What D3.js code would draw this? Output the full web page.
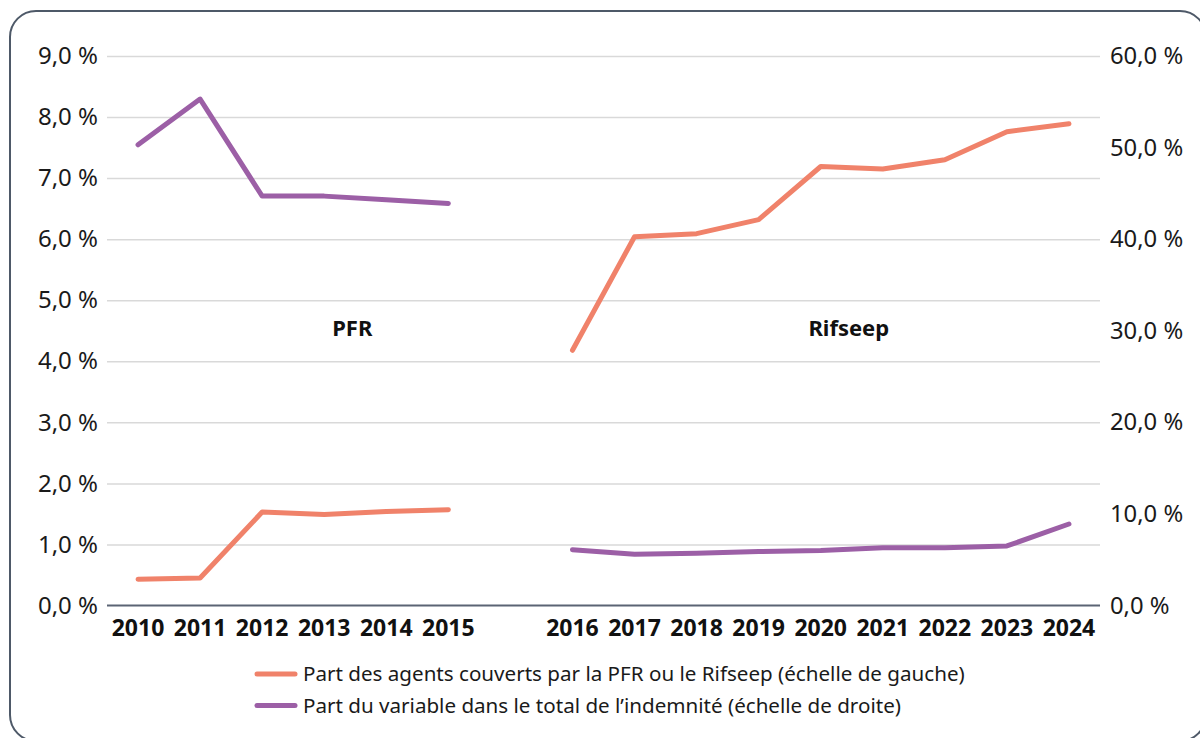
<!DOCTYPE html>
<html>
<head>
<meta charset="utf-8">
<script src="https://cdn.jsdelivr.net/npm/d3@7"></script>
<style>
  body { margin: 0; background: #fff; }
  svg { display: block; font-family: "Noto Sans", sans-serif; }
</style>
</head>
<body>
<svg id="chart" width="1200" height="738"></svg>
<script>
// valeurs
var years = [2010, 2011, 2012, 2013, 2014, 2015, 2016, 2017, 2018, 2019, 2020, 2021, 2022, 2023, 2024];
// part des agents couverts (échelle de gauche, %)
var agentsCouverts = [0.43, 0.45, 1.53, 1.49, 1.54, 1.57, 4.18, 6.04, 6.09, 6.32, 7.19, 7.15, 7.30, 7.76, 7.89];
// part du variable (échelle de droite, %)
var partVariable = [50.3, 55.3, 44.7, 44.7, 44.3, 43.9, 6.1, 5.6, 5.7, 5.9, 6.0, 6.3, 6.3, 6.5, 8.9];

var leftTicks = [0, 1, 2, 3, 4, 5, 6, 7, 8, 9];
var rightTicks = [0, 10, 20, 30, 40, 50, 60];

var phases = [
  {name: "PFR", from: 2010, to: 2015, labelAt: "2014"},
  {name: "Rifseep", from: 2016, to: 2024, labelAt: "2021"}
];

var legendItems = [
  {label: "Part des agents couverts par la PFR ou le Rifseep (échelle de gauche)", color: "#F0826A"},
  {label: "Part du variable dans le total de l\u2019indemnité (échelle de droite)", color: "#9C5FA6"}
];

const svg = d3.select("#chart");
const plotLeft = 107, plotRight = 1100, plotTop = 56, plotBottom = 605.5;

// cadre
svg.append("rect")
  .attr("x", 10).attr("y", 11)
  .attr("width", 1196).attr("height", 730)
  .attr("rx", 26)
  .attr("fill", "#fff")
  .attr("stroke", "#4E5968")
  .attr("stroke-width", 2);

var fr = d3.formatLocale({decimal: ",", thousands: " ", grouping: [3], currency: ["", " €"]});
var fmt = fr.format(".1f");

// domaine x avec une case vide entre les deux régimes
var xDomain = years.filter(d => d <= 2015).map(String)
  .concat(["gap"])
  .concat(years.filter(d => d >= 2016).map(String));

let x = d3.scaleBand().domain(xDomain).range([plotLeft, plotRight]).padding(0);
let yLeft = d3.scaleLinear().domain([0, 9]).range([plotBottom, plotTop]);
let yRight = d3.scaleLinear().domain([0, 60]).range([plotBottom, plotTop]);

// grille
svg.append("g")
  .attr("class", "grid")
  .attr("transform", "translate(" + plotLeft + ",0)")
  .call(d3.axisLeft(yLeft).tickValues(leftTicks.slice(1)).tickSize(-(plotRight - plotLeft)).tickFormat(""))
  .call(g => g.select(".domain").remove())
  .call(g => g.selectAll("line").attr("stroke", "#D9D9D9").attr("stroke-width", 1.5));

// ligne de base
svg.append("line")
  .attr("x1", plotLeft).attr("x2", plotRight)
  .attr("y1", yLeft(0)).attr("y2", yLeft(0))
  .attr("stroke", "#5B6474")
  .attr("stroke-width", 2);

// axe gauche
svg.append("g")
  .attr("transform", "translate(" + (plotLeft - 9) + ",0)")
  .call(d3.axisLeft(yLeft).tickValues(leftTicks).tickSize(0).tickPadding(0).tickFormat(d => fmt(d) + " %"))
  .call(g => g.select(".domain").remove())
  .call(g => g.selectAll("text")
    .attr("font-family", "Noto Sans").attr("font-size", 24).attr("fill", "#1a1a1a"));

// axe droit
svg.append("g")
  .attr("transform", "translate(" + (plotRight + 10) + ",0)")
  .call(d3.axisRight(yRight).tickValues(rightTicks).tickSize(0).tickPadding(0).tickFormat(d => fmt(d) + " %"))
  .call(g => g.select(".domain").remove())
  .call(g => g.selectAll("text")
    .attr("font-family", "Noto Sans").attr("font-size", 23.8).attr("fill", "#1a1a1a"));

// axe des années
svg.append("g")
  .attr("transform", "translate(0," + (plotBottom + 6) + ")")
  .call(d3.axisBottom(x).tickValues(years.map(String)).tickSize(0).tickPadding(8))
  .call(g => g.select(".domain").remove())
  .call(g => g.selectAll("text")
    .attr("font-family", "Noto Sans").attr("font-size", 23)
    .attr("font-weight", "bold").attr("fill", "#111"));

let cx = d => x(String(d.year)) + x.bandwidth() / 2;

var rows = years.map((y, i) => ({year: y, a: agentsCouverts[i], v: partVariable[i]}));

let lineA = d3.line().x(cx).y(d => yLeft(d.a));
let lineV = d3.line().x(cx).y(d => yRight(d.v));

phases.forEach(function(p) {
  var seg = rows.filter(d => d.year >= p.from && d.year <= p.to);
  svg.append("path")
    .datum(seg)
    .attr("d", lineV)
    .attr("fill", "none")
    .attr("stroke", legendItems[1].color)
    .attr("stroke-width", 5)
    .attr("stroke-linecap", "round")
    .attr("stroke-linejoin", "round");
  svg.append("path")
    .datum(seg)
    .attr("d", lineA)
    .attr("fill", "none")
    .attr("stroke", legendItems[0].color)
    .attr("stroke-width", 5)
    .attr("stroke-linecap", "round")
    .attr("stroke-linejoin", "round");

  svg.append("text")
    .attr("x", x(p.labelAt) - 3)
    .attr("y", 336)
    .attr("text-anchor", "middle")
    .attr("font-size", 22)
    .attr("font-weight", "bold")
    .attr("fill", "#111")
    .text(p.name);
});

// légende
let legend = svg.append("g").attr("transform", "translate(255,674)");
legendItems.forEach(function(item, i) {
  let row = legend.append("g").attr("transform", "translate(0," + (i * 31.5) + ")");
  row.append("line")
    .attr("x1", 2).attr("x2", 40)
    .attr("stroke", item.color)
    .attr("stroke-width", 5)
    .attr("stroke-linecap", "round");
  row.append("text")
    .attr("x", 48)
    .attr("dy", "0.35em")
    .attr("font-size", 20.6)
    .attr("fill", "#1a1a1a")
    .text(item.label);
});
</script>
</body>
</html>
